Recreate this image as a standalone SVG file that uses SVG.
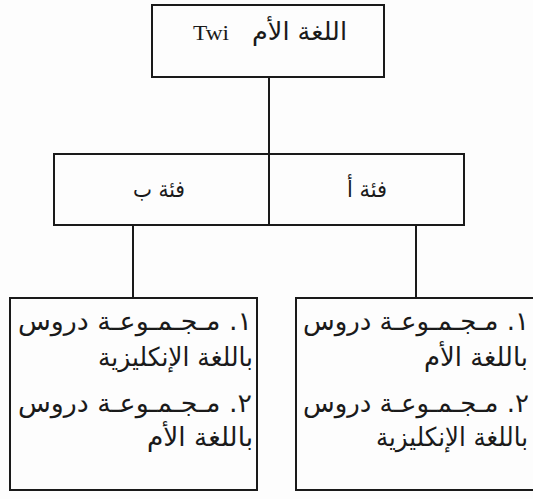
<svg xmlns="http://www.w3.org/2000/svg" width="533" height="499" viewBox="0 0 533 499">
<style>
.box{fill:none;stroke:#1a1a1a;stroke-width:2}
.ln{stroke:#1a1a1a;stroke-width:2;fill:none}
.ar{font-family:'DejaVu Sans',sans-serif;font-size:26px;fill:#1a1a1a}
.mid{font-family:'DejaVu Sans',sans-serif;font-size:23px;fill:#1a1a1a}
.top{font-family:'DejaVu Sans',sans-serif;font-size:25px;fill:#1a1a1a}
.en{font-family:'Liberation Serif',serif;font-size:22px;fill:#1a1a1a}
</style>
<rect width="533" height="499" fill="#fdfdfd"/>
<g id="connectors">
<line class="ln" x1="269" y1="77" x2="269" y2="154"/>
<line class="ln" x1="133" y1="225" x2="133" y2="298"/>
<line class="ln" x1="416" y1="225" x2="416" y2="298"/>
</g>
<g id="root">
<rect class="box" x="152" y="5" width="232" height="72"/>
<text class="en" x="193" y="40" textLength="36" lengthAdjust="spacingAndGlyphs">Twi</text>
<text class="top" x="347" y="40" text-anchor="end" textLength="95" lengthAdjust="spacingAndGlyphs">اللغة الأم</text>
</g>
<g id="categories">
<rect class="box" x="54" y="154" width="410" height="71"/>
<line class="ln" x1="269" y1="154" x2="269" y2="225"/>
<text class="mid" x="185" y="197" text-anchor="end" textLength="52" lengthAdjust="spacingAndGlyphs">فئة ب</text>
<text class="mid" x="387" y="197" text-anchor="end" textLength="40" lengthAdjust="spacingAndGlyphs">فئة أ</text>
</g>
<g id="groupB">
<rect class="box" x="10" y="298" width="247" height="192"/>
<text class="ar" x="252" y="330" text-anchor="end" textLength="234" lengthAdjust="spacingAndGlyphs">١. مـجـمـوعـة دروس</text>
<text class="ar" x="253" y="366" text-anchor="end" textLength="155" lengthAdjust="spacingAndGlyphs">باللغة الإنكليزية</text>
<text class="ar" x="252" y="412" text-anchor="end" textLength="234" lengthAdjust="spacingAndGlyphs">٢. مـجـمـوعـة دروس</text>
<text class="ar" x="253" y="446" text-anchor="end" textLength="106" lengthAdjust="spacingAndGlyphs">باللغة الأم</text>
</g>
<g id="groupA">
<rect class="box" x="296" y="298" width="250" height="192"/>
<text class="ar" x="529" y="330" text-anchor="end" textLength="226" lengthAdjust="spacingAndGlyphs">١. مـجـمـوعـة دروس</text>
<text class="ar" x="528" y="366" text-anchor="end" textLength="104" lengthAdjust="spacingAndGlyphs">باللغة الأم</text>
<text class="ar" x="529" y="412" text-anchor="end" textLength="226" lengthAdjust="spacingAndGlyphs">٢. مـجـمـوعـة دروس</text>
<text class="ar" x="528" y="446" text-anchor="end" textLength="152" lengthAdjust="spacingAndGlyphs">باللغة الإنكليزية</text>
</g>
</svg>
